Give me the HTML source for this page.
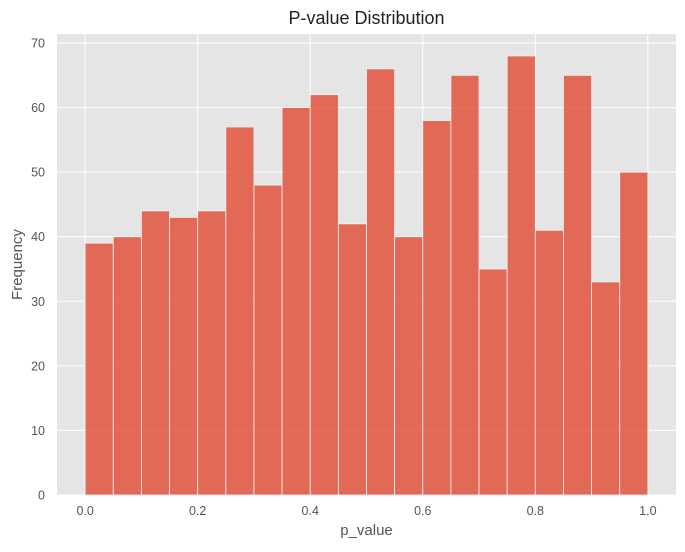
<!DOCTYPE html>
<html><head><meta charset="utf-8"><style>
body{margin:0;background:#fff;font-family:"Liberation Sans",sans-serif;}
</style></head><body>
<svg id="c" width="685" height="547" xmlns="http://www.w3.org/2000/svg"></svg>
<script>
const binStarts=[0,0.05,0.1,0.15,0.2,0.25,0.3,0.35,0.4,0.45,0.5,0.55,0.6,0.65,0.7,0.75,0.8,0.85,0.9,0.95];
const counts=[39,40,44,43,44,57,48,60,62,42,66,40,58,65,35,68,41,65,33,50];
const xTicks=[0,0.2,0.4,0.6,0.8,1.0];
const xTickLabels=["0.0","0.2","0.4","0.6","0.8","1.0"];
const yTicks=[0,10,20,30,40,50,60,70];
const binWidth=0.05;
const L=57,R=676,T=34,B=495;
const xMin=-0.05,xMax=1.05,yMax=71.4;
const sx=v=>L+(v-xMin)/(xMax-xMin)*(R-L);
const sy=v=>B-v/yMax*(B-T);
const svg=document.getElementById('c');
const NS='http://www.w3.org/2000/svg';
function mk(t,a,p){const e=document.createElementNS(NS,t);for(const k in a)e.setAttribute(k,a[k]);(p||svg).appendChild(e);return e;}
const bg=mk('rect',{x:L,y:T,width:R-L,height:B-T,fill:'#e5e5e5'});


xTicks.forEach((v,i)=>{
 const g=mk('line',{x1:sx(v),x2:sx(v),y1:T,y2:B,stroke:'#fff','stroke-width':1});
 
 
 const t=mk('text',{x:sx(v),y:B+20,'text-anchor':'middle','font-size':12.5,fill:'#555'});
 t.textContent=xTickLabels[i];
 
 
});
yTicks.forEach(v=>{
 const g=mk('line',{x1:L,x2:R,y1:sy(v),y2:sy(v),stroke:'#fff','stroke-width':1});
 
 
 const t=mk('text',{x:L-12,y:sy(v)+4.5,'text-anchor':'end','font-size':12.5,fill:'#555'});
 t.textContent=v;
 
 
});
binStarts.forEach((b,i)=>{
 const x0=sx(b),x1=sx(b+binWidth);
 const r=mk('rect',{x:x0,y:sy(counts[i]),width:x1-x0,height:B-sy(counts[i]),fill:'#e24a33','fill-opacity':0.8,stroke:'#f2f2f2','stroke-width':0.8});
 
 
});
const ti=mk('text',{x:(L+R)/2,y:24,'text-anchor':'middle','font-size':18,fill:'#222'});
ti.textContent='P-value Distribution';


const xl=mk('text',{x:(L+R)/2,y:535,'text-anchor':'middle','font-size':15,fill:'#555'});
xl.textContent='p_value';


const yl=mk('text',{x:22,y:(T+B)/2,'text-anchor':'middle','font-size':15,fill:'#555',transform:`rotate(-90 22 ${(T+B)/2})`});
yl.textContent='Frequency';


</script>
</body></html>
